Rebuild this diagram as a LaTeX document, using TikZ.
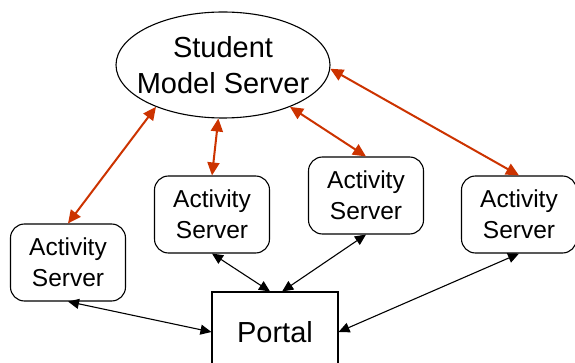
\documentclass[tikz,border=0pt]{standalone}
\usepackage{fontspec}
\setmainfont{Liberation Sans}
\usetikzlibrary{arrows.meta,shapes.geometric}
\definecolor{redarrow}{RGB}{204,51,0}
\tikzset{
  actbox/.style={draw, line width=1.1pt, rounded corners=14pt, minimum width=115pt, minimum height=77pt, align=center, font=\fontsize{24.5}{31}\selectfont, inner sep=0pt},
  redlink/.style={draw=redarrow, line width=2pt, {Triangle[length=13pt,width=12pt]}-{Triangle[length=13pt,width=12pt]}},
  blacklink/.style={draw=black, line width=1.1pt, {Triangle[length=11pt,width=10pt]}-{Triangle[length=11pt,width=10pt]}},
}
\begin{document}
\begin{tikzpicture}[x=1pt,y=-1pt]
\useasboundingbox (0,0) rectangle (575,363);
\clip (0,0) rectangle (575,363);
\node[draw, line width=1.1pt, ellipse, minimum width=214pt, minimum height=106pt, inner xsep=-20pt, inner ysep=-5pt, align=center, font=\fontsize{29}{36}\selectfont] (sms) at (223,65) {Student\\Model Server};
\node[actbox] (a1) at (68,262.5) {Activity\\Server};
\node[actbox] (a2) at (212,214.5) {Activity\\Server};
\node[actbox] (a3) at (366,195.5) {Activity\\Server};
\node[actbox] (a4) at (519,214.5) {Activity\\Server};
\node[draw, line width=1.1pt, minimum width=126pt, minimum height=80pt, inner sep=0pt, font=\fontsize{29}{36}\selectfont] (portal) at (275,332) {Portal};
\draw[redlink] (sms.212) -- (a1.north);
\draw[redlink] (sms.-95) -- (a2.north);
\draw[redlink] (sms.-32) -- (a3.north);
\draw[redlink] (sms.-2) -- (a4.north);
\draw[blacklink] (a1.south) -- (portal.west);
\draw[blacklink] (a2.south) -- (portal.97);
\draw[blacklink] (a3.south) -- (portal.80);
\draw[blacklink] (a4.south) -- (portal.east);
\end{tikzpicture}
\end{document}
